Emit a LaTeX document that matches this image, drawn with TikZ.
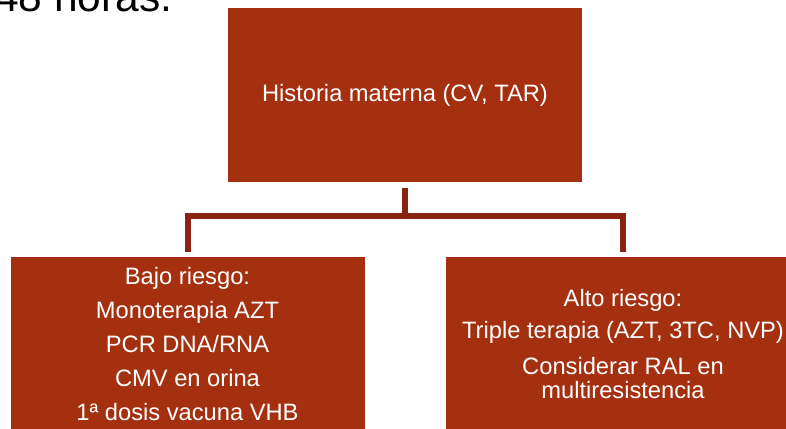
\documentclass[tikz,border=0pt]{standalone}
\usepackage{fontspec}
\setmainfont{Liberation Sans}
\usetikzlibrary{positioning}
\definecolor{rustbox}{HTML}{A5300F}
\definecolor{rustline}{HTML}{8A2410}

\begin{document}
\begin{tikzpicture}[x=1pt,y=-1pt,
  riskblock/.style={fill=rustbox,text=white,minimum width=354pt,minimum height=174pt,inner sep=0pt,align=center,font=\fontsize{23.7}{24}\selectfont},
  linkline/.style={draw=rustline,line width=6pt,line join=miter}]
\useasboundingbox (0,0) rectangle (786,428);

\node[anchor=base west,inner sep=0pt,font=\fontsize{42.5}{46}\selectfont] at (-5,12) (hours){48 horas.};

\node[riskblock] at (405,95) (block0){Historia materna (CV, TAR)};
\node[riskblock] at (187.5,344) (block1){Bajo riesgo:\\[10pt]Monoterapia AZT\\[10pt]PCR DNA/RNA\\[10pt]CMV en orina\\[10pt]1ª dosis vacuna VHB};
\node[riskblock] at (623,344) (block2){Alto riesgo:\\[8pt]Triple terapia (AZT, 3TC, NVP)\\[12pt]Considerar RAL en\\multiresistencia};

\coordinate (fork) at (405,216);
\coordinate (fork1) at (block1.north |- fork);
\coordinate (fork2) at (block2.north |- fork);

\draw[linkline] ([yshift=-6pt]block0.south) -- (fork);
\draw[linkline] ([yshift=5pt]block1.north) -- (fork1) -- (fork2) -- ([yshift=5pt]block2.north);

\end{tikzpicture}
\end{document}
